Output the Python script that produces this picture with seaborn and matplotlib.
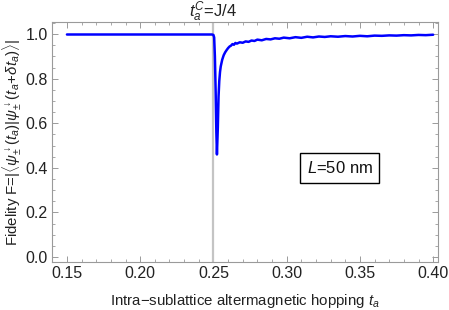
import matplotlib
matplotlib.use("Agg")
import matplotlib.pyplot as plt
import matplotlib.transforms as mtransforms
from matplotlib.ticker import MultipleLocator
import seaborn as sns
import pandas as pd

# ---- data ----
t_a = [0.150, 0.200, 0.2490, 0.2500, 0.2505, 0.2510, 0.2515, 0.2520, 0.2524,
       0.2530, 0.2535, 0.2540, 0.2545, 0.2550, 0.2560, 0.2570, 0.2580, 0.2590,
       0.2600, 0.2610, 0.2620, 0.2630, 0.2640, 0.2650, 0.2660, 0.2680, 0.2700,
       0.2720, 0.2740, 0.2760, 0.2780, 0.2800, 0.2830, 0.2860, 0.2890, 0.2920,
       0.2950, 0.2980, 0.3020, 0.3060, 0.3100, 0.3140, 0.3180, 0.3220, 0.3260,
       0.3300, 0.3350, 0.3400, 0.3450, 0.3500, 0.3550, 0.3600, 0.3650, 0.3700,
       0.3750, 0.3800, 0.3850, 0.3900, 0.3950, 0.4000]
fidelity = [0.998, 0.998, 0.998, 0.996, 0.985, 0.900, 0.750, 0.560, 0.460,
            0.580, 0.720, 0.790, 0.830, 0.855, 0.885, 0.905, 0.918, 0.928,
            0.937, 0.944, 0.948, 0.955, 0.952, 0.960, 0.957, 0.963, 0.961,
            0.967, 0.965, 0.971, 0.969, 0.975, 0.972, 0.978, 0.976, 0.981,
            0.979, 0.984, 0.981, 0.986, 0.983, 0.988, 0.985, 0.989, 0.987,
            0.990, 0.988, 0.991, 0.989, 0.992, 0.990, 0.993, 0.992, 0.994,
            0.993, 0.995, 0.994, 0.996, 0.995, 0.997]
t_critical = 0.25
x_ticks = [0.15, 0.20, 0.25, 0.30, 0.35, 0.40]
y_ticks = [0.0, 0.2, 0.4, 0.6, 0.8, 1.0]

sns.set_theme(style="ticks")
plt.rcParams['font.family'] = ['Liberation Sans', 'DejaVu Sans']
plt.rcParams['mathtext.fontset'] = 'custom'
plt.rcParams['mathtext.rm'] = 'Liberation Sans'
plt.rcParams['mathtext.it'] = 'Liberation Sans:italic'
plt.rcParams['mathtext.bf'] = 'Liberation Sans:bold'

df = pd.DataFrame({"t_a": t_a, "F": fidelity})

fig = plt.figure(figsize=(4.49, 3.10), dpi=100)
ax = fig.add_axes([0.1158, 0.155, 0.86, 0.774])

ax.axvline(t_critical, color="#c4c4c4", lw=1.6, zorder=1)
sns.lineplot(data=df, x="t_a", y="F", ax=ax, color="#0000ff", lw=1.8,
             zorder=3, sort=False)

ax.set_xlim(0.1398, 0.4034)
ax.set_ylim(-0.022, 1.054)
ax.set_xticks(x_ticks)
ax.set_xticklabels([f"{v:.2f}" for v in x_ticks])
ax.set_yticks(y_ticks)
ax.set_yticklabels([f"{v:.1f}" for v in y_ticks])
ax.xaxis.set_minor_locator(MultipleLocator(0.01))
ax.yaxis.set_minor_locator(MultipleLocator(0.05))

frame_col = "#9a9a9a"
for s in ax.spines.values():
    s.set_color(frame_col)
    s.set_linewidth(0.8)
ax.tick_params(which="both", direction="in", colors=frame_col,
               top=True, right=True, labelcolor="#222222", labelsize=11.5)
ax.tick_params(which="major", length=4, width=0.7, pad=3)
ax.tick_params(which="minor", length=2, width=0.6)

ax.set_xlabel(r"Intra−sublattice altermagnetic hopping $t_a$",
              fontsize=10.8, color="#222222", labelpad=8)
ax.set_ylabel(r"Fidelity F=$|\langle\psi^{\downarrow}_{\pm}(t_a)|\psi^{\downarrow}_{\pm}(t_a\!+\!\delta t_a)\rangle|$",
              fontsize=10.8, color="#222222", labelpad=2)

trans = mtransforms.blended_transform_factory(ax.transData, fig.transFigure)
ax.text(t_critical, 0.962, r"$t_a^C$=J/4", transform=trans, ha="center",
        va="center", fontsize=12, color="#222222")

ax.text(0.745, 0.392, r"$L$=50 nm", transform=ax.transAxes, ha="center",
        va="center", fontsize=12, color="#111111",
        bbox=dict(boxstyle="square,pad=0.4", fc="white", ec="black", lw=1.0))

fig.savefig("out.png", dpi=100)
